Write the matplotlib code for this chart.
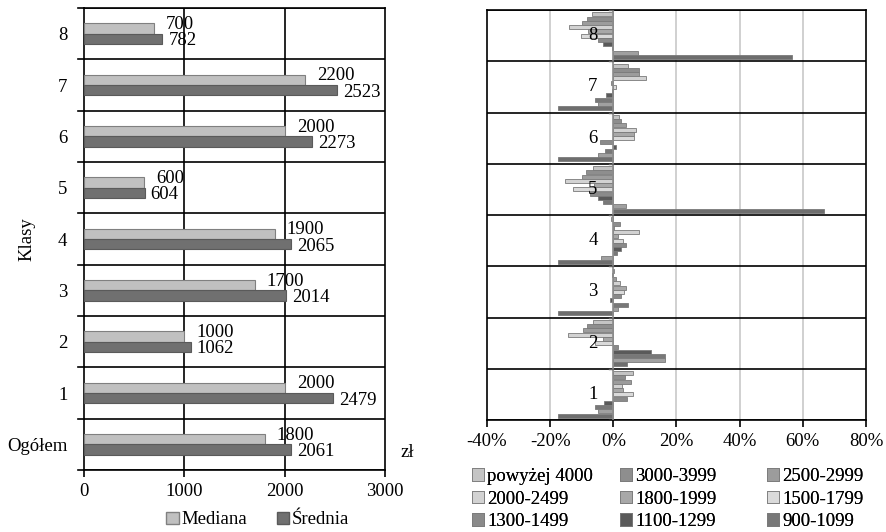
import matplotlib
matplotlib.use("Agg")
import matplotlib.pyplot as plt
from matplotlib.patches import Patch
import numpy as np

plt.rcParams["font.family"] = ["Liberation Serif", "DejaVu Serif"]

# left chart: median and mean wage per class
classes = ["Ogółem", "1", "2", "3", "4", "5", "6", "7", "8"]
mediana = [1800, 2000, 1000, 1700, 1900, 600, 2000, 2200, 700]
srednia = [2061, 2479, 1062, 2014, 2065, 604, 2273, 2523, 782]

# right chart: share of each wage bracket in a class minus the overall share (%),
# classes 1..8. The two lowest brackets are plotted but the legend only shows nine entries.
groups = ["1", "2", "3", "4", "5", "6", "7", "8"]
brackets = ["powyżej 4000", "3000-3999", "2500-2999", "2000-2499", "1800-1999",
            "1500-1799", "1300-1499", "1100-1299", "900-1099", "700-899", "poniżej 700"]
p4000 = [6.1, -6.3, 0.3, -0.8, -6.3, 1.7, 4.6, -6.7]
p3000 = [3.7, -8.4, -0.5, 2.0, -8.5, 2.5, 8.0, -8.3]
p2500 = [5.6, -9.7, 1.0, 0.3, -9.8, 4.0, 8.2, -9.9]
p2000 = [2.6, -14.5, 2.0, 8.2, -15.2, 7.2, 10.2, -13.9]
p1800 = [3.2, -3.2, 4.1, 1.5, -6.0, 6.5, -0.8, -8.0]
p1500 = [6.1, -5.8, 3.3, 3.0, -12.7, 6.5, 0.8, -10.3]
p1300 = [4.2, 1.5, 2.3, 4.0, -7.4, -4.3, -0.5, -4.8]
p1100 = [-2.9, 12.0, -1.0, 2.5, -4.8, 1.0, -2.4, -3.2]
p900 = [-5.8, 16.3, 4.7, 1.3, -3.2, -2.5, -5.8, -0.5]
p700 = [-4.7, 16.3, 1.5, -4.0, 3.9, -4.7, -4.7, 7.8]
p0 = [-17.4, 4.2, -17.4, -17.4, 66.6, -17.4, -17.4, 56.5]
series = [p4000, p3000, p2500, p2000, p1800, p1500, p1300, p1100, p900, p700, p0]
colors = ["#c4c4c4", "#8e8e8e", "#9c9c9c", "#d2d2d2", "#a8a8a8",
          "#dadada", "#8a8a8a", "#5a5a5a", "#787878", "#a0a0a0", "#6e6e6e"]
n_legend = 9

FS = 13.5

fig = plt.figure(figsize=(8.87, 5.32), dpi=100, facecolor="white")

# ---------- left chart ----------
ax1 = fig.add_axes([84 / 887, 62 / 532, 301 / 887, 462 / 532])
y = np.arange(len(classes))
ax1.barh(y + 0.1, mediana, height=0.2, color="#c0c0c0", edgecolor="#808080", linewidth=0.8, zorder=3)
ax1.barh(y - 0.1, srednia, height=0.2, color="#707070", edgecolor="#5a5a5a", linewidth=0.8, zorder=3)
for yi, m, s in zip(y, mediana, srednia):
    ax1.annotate(str(m), (m, yi + 0.1), xytext=(12, 4), textcoords="offset pixels",
                 ha="left", va="center", fontsize=FS)
    ax1.annotate(str(s), (s, yi - 0.1), xytext=(6, -2), textcoords="offset pixels",
                 ha="left", va="center", fontsize=FS)
ax1.set_xlim(0, 3000)
ax1.set_ylim(-0.5, len(classes) - 0.5)
ax1.set_xticks([0, 1000, 2000, 3000])
ax1.set_xticklabels(["0", "1000", "2000", "3000"], fontsize=FS)
ax1.set_yticks(y)
ax1.set_yticklabels(classes, fontsize=FS)
ax1.tick_params(axis="y", length=0, pad=12)
ax1.tick_params(axis="x", length=5, width=1.2, direction="out", pad=4)
for b in np.arange(-0.5, len(classes), 1.0):
    ax1.axhline(b, color="black", linewidth=1.2, zorder=2)
    ax1.plot([-0.02, 0], [b, b], transform=ax1.get_yaxis_transform(), color="black",
             linewidth=1.2, clip_on=False)
for xv in [1000, 2000]:
    ax1.axvline(xv, color="black", linewidth=1.2, zorder=1)
for sp in ax1.spines.values():
    sp.set_linewidth(1.2)
ax1.set_ylabel("Klasy", fontsize=FS)
ax1.yaxis.set_label_coords(-0.16, 0.5)
ax1.text(1.05, 0.037, "zł", transform=ax1.transAxes, fontsize=FS, ha="left", va="center")
ax1.legend(handles=[Patch(facecolor="#c0c0c0", edgecolor="#808080", label="Mediana"),
                    Patch(facecolor="#707070", edgecolor="#5a5a5a", label="Średnia")],
           loc="center", bbox_to_anchor=(258 / 887, 1 - 520 / 532),
           bbox_transform=fig.transFigure, ncol=2, frameon=False,
           fontsize=FS, handlelength=0.65, handleheight=0.65, handletextpad=0.15,
           columnspacing=1.6, borderpad=0)

# ---------- right chart ----------
ax2 = fig.add_axes([487 / 887, 112 / 532, 379 / 887, 410 / 532])
gy = np.arange(len(groups))
n = len(series)
slot = 0.083
handles = []
for k, (vals, c) in enumerate(zip(series, colors)):
    offs = (n - 1) / 2 * slot - k * slot
    bars = ax2.barh(gy + offs, vals, height=slot * 0.92, color=c, edgecolor="#7a7a7a",
                    linewidth=0.6, zorder=3)
    handles.append(bars)
ax2.set_xlim(-40, 80)
ax2.set_ylim(-0.5, len(groups) - 0.5)
ax2.set_xticks([-40, -20, 0, 20, 40, 60, 80])
ax2.set_xticklabels(["-40%", "-20%", "0%", "20%", "40%", "60%", "80%"], fontsize=FS)
ax2.tick_params(axis="x", length=5, width=1.2, pad=4)
ax2.set_yticks([])
for xv in [-20, 20, 40, 60]:
    ax2.axvline(xv, color="#c8c8c8", linewidth=1.2, zorder=1)
ax2.axvline(0, color="#8c8c8c", linewidth=1.2, zorder=4)
for b in np.arange(-0.5, len(groups), 1.0):
    ax2.axhline(b, color="black", linewidth=1.2, zorder=2)
    ax2.plot([-1.5, 0], [b, b], color="#606060", linewidth=1.0, zorder=4)
for gi, g in zip(gy, groups):
    ax2.text(-5.0, gi, g, ha="right", va="center", fontsize=FS, zorder=5)
for sp in ax2.spines.values():
    sp.set_linewidth(1.2)

# legend: nine entries in three columns, filled row by row
col_x = [472, 620, 767]
for c in range(3):
    idx = [r * 3 + c for r in range(3) if r * 3 + c < n_legend]
    leg = fig.legend([handles[i] for i in idx], [brackets[i] for i in idx],
                     loc="upper left", bbox_to_anchor=(col_x[c] / 887, 1 - 468 / 532),
                     frameon=False, fontsize=FS, handlelength=0.65, handleheight=0.65,
                     handletextpad=0.15, labelspacing=0.3, borderpad=0, borderaxespad=0)
    fig.add_artist(leg)

fig.savefig("out.png", dpi=100, facecolor="white")
